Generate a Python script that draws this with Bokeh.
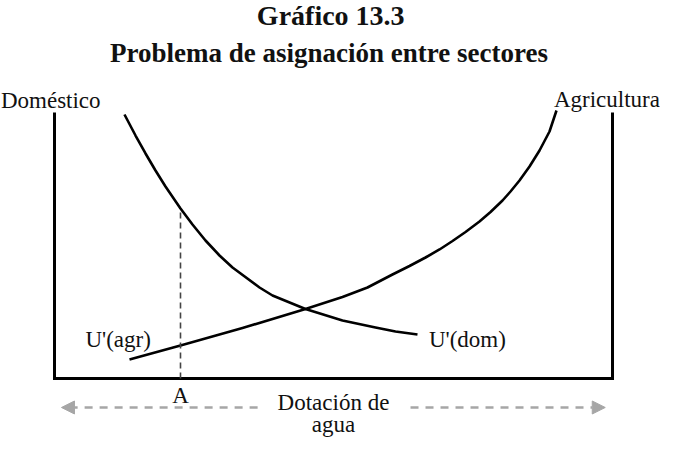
from bokeh.plotting import figure
from bokeh.models import Range1d, Label, Arrow, NormalHead
from bokeh.embed import file_html
from bokeh.resources import INLINE

# ---- data (conceptual units: water allotment 0-100, marginal utility 0-100)
dom_x = [12.54, 14.52, 16.31, 18.10, 19.89, 22.58, 24.73, 27.06, 29.57, 31.90,
         36.74, 39.07, 44.98, 51.61, 57.53, 61.11, 65.05]
dom_y = [99.25, 91.35, 84.59, 78.20, 72.18, 63.91, 57.89, 51.88, 46.24, 41.73,
         34.21, 31.20, 26.13, 21.80, 19.17, 17.67, 16.54]
agr_x = [13.44, 22.58, 33.69, 44.98, 51.61, 56.09, 60.57, 63.62, 66.49, 69.00,
         71.33, 73.66, 76.16, 78.14, 80.29, 81.72, 83.33, 85.13, 86.92, 88.71, 89.96]
agr_y = [7.14, 12.41, 18.98, 26.13, 30.64, 34.21, 39.10, 42.29, 45.49, 48.50,
         51.69, 55.08, 59.02, 62.59, 66.92, 70.30, 74.44, 79.70, 85.71, 92.86, 100.75]
point_a_x = 22.58
point_a_y = 63.91
box_x = [0, 0, 100, 100]
box_y = [100, 0, 0, 100]

title_text = "Gráfico 13.3"
subtitle_text = "Problema de asignación entre sectores"
left_label = "Doméstico"
right_label = "Agricultura"
agr_label = "U'(agr)"
dom_label = "U'(dom)"
a_label = "A"
axis_label_1 = "Dotación de"
axis_label_2 = "agua"

FONT = "Liberation Serif"

p = figure(width=660, height=438,
           x_range=Range1d(-9.677, 108.6), y_range=Range1d(-22.556, 142.105),
           output_backend="svg", toolbar_location=None, min_border=0,
           x_axis_location=None, y_axis_location=None)
p.grid.visible = False
p.outline_line_color = None
p.background_fill_color = "white"
p.border_fill_color = "white"

# box
p.line(box_x, box_y, line_color="black", line_width=3, line_join="miter")

# curves
p.line(dom_x, dom_y, line_color="black", line_width=2.6, line_join="round")
p.line(agr_x, agr_y, line_color="black", line_width=2.6, line_join="round")

# dashed vertical at A
p.line([point_a_x, point_a_x], [0, point_a_y], line_color="#444444",
       line_width=1.6, line_dash="6 4")

# double arrow (two halves)
grey = "#a6a6a6"
for xs, xe in [(36.4, 1.25), (63.8, 98.7)]:
    p.add_layout(Arrow(end=NormalHead(size=13, fill_color=grey, line_color=grey),
                       x_start=xs, y_start=-10.9, x_end=xe, y_end=-10.9,
                       line_color=grey, line_width=2.5, line_dash="8 7"))

def lab(x, y, text, size="23px", align="center", style="normal"):
    p.add_layout(Label(x=x, y=y, text=text, text_font=FONT, text_font_size=size,
                       text_align=align, text_baseline="middle",
                       text_font_style=style, text_color="#111111"))

lab(49.5, 136.6, title_text, size="28px", style="bold")
lab(49.2, 122.2, subtitle_text, size="27px", style="bold")
lab(-9.6, 104.5, left_label, align="left")
lab(108.5, 104.9, right_label, align="right")
lab(11.4, 14.7, agr_label)
lab(74.0, 14.7, dom_label)
lab(22.6, -6.4, a_label)
lab(50.0, -9.0, axis_label_1)
lab(50.0, -17.3, axis_label_2)

open("out.html", "w").write(file_html(p, INLINE))
